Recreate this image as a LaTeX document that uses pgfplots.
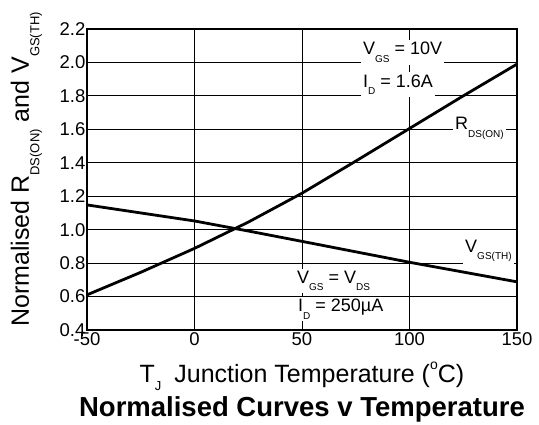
\documentclass[border=0pt]{standalone}
\usepackage{pgfplots}
\pgfplotsset{compat=1.18}
\usepackage{fontspec}
\setmainfont{Liberation Sans}
\newcommand\sub[2][10]{\raisebox{-0.42em}{\fontsize{#1}{#1}\selectfont #2}}
\begin{document}
\begin{tikzpicture}
\begin{axis}[
  name=ax,
  scale only axis,
  width=430pt, height=301pt,
  xmin=-50, xmax=150, ymin=0.4, ymax=2.2,
  xtick={-50,0,50,100,150},
  xticklabels={-50,0,50,100,150},
  ytick={0.4,0.6,0.8,1.0,1.2,1.4,1.6,1.8,2.0,2.2},
  yticklabels={0.4,0.6,0.8,1.0,1.2,1.4,1.6,1.8,2.0,2.2},
  grid=major,
  major grid style={black, line width=0.8pt},
  axis line style={black, line width=1.6pt},
  major tick length=4pt,
  tick style={black, line width=0.8pt},
  tick label style={font=\fontsize{18.5}{20}\selectfont},
  yticklabel style={inner sep=1pt, xshift=-0.5pt},
  xticklabel style={inner sep=1pt, yshift=-1pt},
  /pgf/number format/assume math mode=true,
  clip=false,
]
\addplot[black, line width=2.8pt] coordinates {
  (-50,0.61) (-25,0.745) (0,0.888) (25,1.045) (50,1.218) (75,1.41) (100,1.605) (125,1.80) (150,1.99)
};
\addplot[black, line width=2.8pt] coordinates {
  (-50,1.148) (0,1.052) (25,0.992) (50,0.93) (100,0.805) (150,0.688)
};
\node[fill=white, inner sep=2pt, anchor=base west, font=\fontsize{18}{20}\selectfont] at (axis cs:77.4,2.045) {V\sub{GS} = 10V\hspace{4pt}};
\node[fill=white, inner sep=2pt, anchor=base west, font=\fontsize{18}{20}\selectfont] at (axis cs:77.4,1.853) {I\sub{D} = 1.6A};
\node[fill=white, inner sep=2pt, anchor=base west, font=\fontsize{18}{20}\selectfont] at (axis cs:120.2,1.596) {R\sub{DS(ON)}};
\node[fill=white, inner sep=2pt, anchor=base west, font=\fontsize{18}{20}\selectfont] at (axis cs:124.9,0.866) {V\sub{GS(TH)}};
\node[fill=white, inner sep=2pt, anchor=base west, font=\fontsize{18}{20}\selectfont] at (axis cs:46.7,0.681) {V\sub{GS} = V\sub{DS}};
\node[fill=white, inner sep=2pt, anchor=base west, font=\fontsize{18}{20}\selectfont] at (axis cs:47.2,0.508) {I\sub{D} = 250µA};
\end{axis}
\node[anchor=base, font=\fontsize{25}{27}\selectfont] at ([yshift=-53pt]ax.south) {T\raisebox{-0.3em}{\fontsize{13}{13}\selectfont J}\hspace{6pt} Junction Temperature (\raisebox{0.55em}{\fontsize{14}{14}\selectfont o}C)};
\node[anchor=base, font=\bfseries\fontsize{27.5}{29}\selectfont] at ([yshift=-87pt]ax.south) {Normalised Curves v Temperature};
\node[anchor=base, rotate=90, font=\fontsize{25}{27}\selectfont] at ([xshift=-58pt, yshift=10pt]ax.west) {Normalised R\sub[13]{DS(ON)} and V\sub[13]{GS(TH)}};
\pgfresetboundingbox
\path ([shift={(-87pt,-95pt)}]ax.south west) rectangle ([shift={(22pt,29pt)}]ax.north east);
\end{tikzpicture}
\end{document}
